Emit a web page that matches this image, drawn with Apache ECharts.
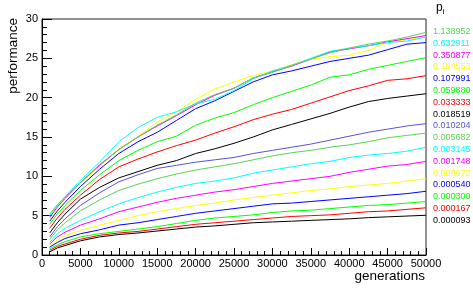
<!DOCTYPE html>
<html>
<head>
<meta charset="utf-8">
<script src="https://cdn.jsdelivr.net/npm/echarts@6/dist/echarts.min.js"></script>
<style>
html,body{margin:0;padding:0;background:#fff;}
#c{width:473px;height:293px;}
</style>
</head>
<body>
<div id="c"></div>
<script>
// x positions (generations)
const generations = [1000,2000,3000,5000,7500,10000,12500,15000,17500,20000,22500,25000,27500,30000,32500,35000,37500,40000,42500,45000,47500,50000];
// legend labels p_i (top to bottom)
const pLabels = ['1.138952','0.632911','0.350877','0.194553','0.107991','0.059880','0.033333','0.018519','0.010204','0.005682','0.003145','0.001748','0.000972','0.000540','0.000300','0.000167','0.000093'];
const lineColors = ['#59d454','#00ffff','#ff00ff','#ffff00','#0000ff','#00ff00','#ff0000','#000000','#5954d8','#59d454','#00ffff','#ff00ff','#ffff00','#0000ff','#00ff00','#ff0000','#000000'];

const perf01 = [5.2,6.4,7.4,9.2,11.5,13.4,15.0,16.5,17.8,19.3,20.4,21.2,22.5,23.2,24.1,24.9,25.7,26.3,26.8,27.2,27.7,28.3];
const perf02 = [5.0,6.3,7.4,9.5,11.8,14.4,16.2,17.5,18.2,19.2,19.8,20.9,22.4,23.4,24.1,25.0,25.9,26.3,26.6,27.0,27.2,27.7];
const perf03 = [4.8,6.1,7.2,9.2,11.4,13.4,15.0,16.4,17.7,19.1,20.3,21.2,22.5,23.3,24.0,24.9,25.8,26.2,26.6,27.1,27.5,27.9];
const perf04 = [4.6,5.9,7.1,9.1,11.3,13.5,15.05,16.9,18.2,19.8,21.1,22.0,22.8,23.4,24.2,24.9,25.2,25.4,26.0,27.0,27.4,27.7];
const perf05 = [4.3,5.6,6.7,8.7,10.9,12.9,14.4,15.6,17.1,18.6,19.6,20.8,22.0,22.9,23.4,24.0,24.6,25.0,25.4,26.1,26.8,27.0];
const perf06 = [3.9,5.2,6.3,8.2,10.2,12.0,13.3,14.4,15.1,16.5,17.4,18.1,19.1,20.0,20.8,21.6,22.6,22.9,23.6,24.1,24.6,25.1];
const perf07 = [3.4,4.7,5.8,7.6,9.6,11.2,12.2,13.1,13.9,14.6,15.5,16.3,17.2,17.9,18.5,19.3,20.1,20.9,21.5,22.2,22.4,22.8];
const perf08 = [2.8,4.1,5.2,7.1,8.6,9.8,10.6,11.4,12.0,12.9,13.5,14.2,15.0,15.9,16.6,17.3,18.0,18.8,19.5,19.9,20.2,20.5];
const perf09 = [2.3,3.6,4.6,6.3,7.9,9.3,10.2,11.0,11.4,11.8,12.1,12.4,12.9,13.3,13.7,14.1,14.6,15.1,15.6,16.0,16.4,16.7];
const perf10 = [2.0,3.2,4.1,5.6,7.0,8.2,9.0,9.7,10.3,10.8,11.2,11.6,12.1,12.6,13.0,13.3,13.7,14.0,14.4,14.9,15.2,15.5];
const perf11 = [1.6,2.7,3.4,4.4,5.5,6.5,7.3,8.0,8.6,9.1,9.4,9.8,10.4,10.8,11.2,11.6,11.9,12.4,12.7,12.9,13.2,13.7];
const perf12 = [1.4,2.3,2.9,3.8,4.6,5.5,6.1,6.7,7.2,7.6,8.0,8.3,8.7,9.1,9.4,9.7,10.0,10.5,10.9,11.3,11.5,11.9];
const perf13 = [1.2,1.9,2.5,3.1,3.8,4.4,5.0,5.5,5.9,6.3,6.6,7.0,7.3,7.6,7.9,8.2,8.4,8.7,8.9,9.1,9.4,9.7];
const perf14 = [1.0,1.6,2.1,2.7,3.2,3.8,4.1,4.5,4.9,5.3,5.6,5.9,6.2,6.5,6.6,6.8,7.0,7.2,7.4,7.6,7.8,8.1];
const perf15 = [0.8,1.3,1.7,2.3,2.7,3.0,3.3,3.6,4.0,4.4,4.7,4.9,5.1,5.4,5.6,5.7,5.9,6.1,6.3,6.4,6.6,6.8];
const perf16 = [0.6,1.1,1.4,2.0,2.5,2.8,3.0,3.3,3.6,3.9,4.1,4.3,4.5,4.7,4.9,5.0,5.1,5.3,5.5,5.6,5.8,6.0];
const perf17 = [0.4,0.9,1.2,1.8,2.3,2.6,2.8,3.05,3.3,3.55,3.7,3.9,4.1,4.2,4.3,4.4,4.5,4.6,4.75,4.85,4.95,5.05];

const allPerf = [perf01,perf02,perf03,perf04,perf05,perf06,perf07,perf08,perf09,perf10,perf11,perf12,perf13,perf14,perf15,perf16,perf17];

const FONT = 'Liberation Sans, Arial, Helvetica, sans-serif';
const chart = echarts.init(document.getElementById('c'));

const series = allPerf.map((vals, i) => ({
  name: pLabels[i],
  type: 'line',
  data: generations.map((g, j) => [g, vals[j]]),
  showSymbol: false,
  symbol: 'none',
  lineStyle: { color: lineColors[i], width: 1 },
  itemStyle: { color: lineColors[i] },
  z: 2 + (allPerf.length - i),
  animation: false
}));

const legendTexts = pLabels.map((lab, i) => ({
  type: 'text',
  left: 433,
  top: 27 + i * 11.8,
  style: { text: lab, fill: lineColors[i], font: '9px ' + FONT }
}));

chart.setOption({
  animation: false,
  backgroundColor: '#fff',
  grid: { left: 42, right: 47, top: 19, bottom: 38, show: true, borderColor: '#222', borderWidth: 1, backgroundColor: 'transparent' },
  xAxis: {
    type: 'value', min: 0, max: 50000, interval: 5000,
    axisLine: { show: true, lineStyle: { color: '#000', width: 1 } },
    axisTick: { show: true, inside: true, length: 7, lineStyle: { color: '#000' } },
    minorTick: { show: true, splitNumber: 5, length: 4, lineStyle: { color: '#000' } },
    splitLine: { show: false },
    axisLabel: { color: '#000', fontSize: 11, fontFamily: FONT, margin: 3, showMaxLabel: true, showMinLabel: true, formatter: v => String(v) }
  },
  yAxis: {
    type: 'value', min: 0, max: 30, interval: 5,
    axisLine: { show: true, lineStyle: { color: '#000', width: 1 } },
    axisTick: { show: true, inside: true, length: 10, lineStyle: { color: '#000' } },
    minorTick: { show: true, splitNumber: 5, length: 5, lineStyle: { color: '#000' } },
    splitLine: { show: false },
    axisLabel: { color: '#000', fontSize: 11, fontFamily: FONT, margin: 4, formatter: v => String(v) }
  },
  graphic: [
    { type: 'text', right: 473 - 425, top: 269, style: { text: 'generations', fill: '#000', font: '13.5px ' + FONT } },
    { type: 'text', x: 6, y: 18, rotation: Math.PI / 2, style: { text: 'performance', fill: '#000', font: '13.5px ' + FONT, align: 'right', verticalAlign: 'top' } },
    { type: 'text', left: 436, top: 2, style: { rich: { p: { fontSize: 12, fontFamily: FONT, fill: '#000' }, s: { fontSize: 8, fontFamily: FONT, fill: '#000', padding: [8, 0, 0, 0] } }, text: '{p|p}{s|i}' } }
  ].concat(legendTexts),
  series: series
});
</script>
</body>
</html>
